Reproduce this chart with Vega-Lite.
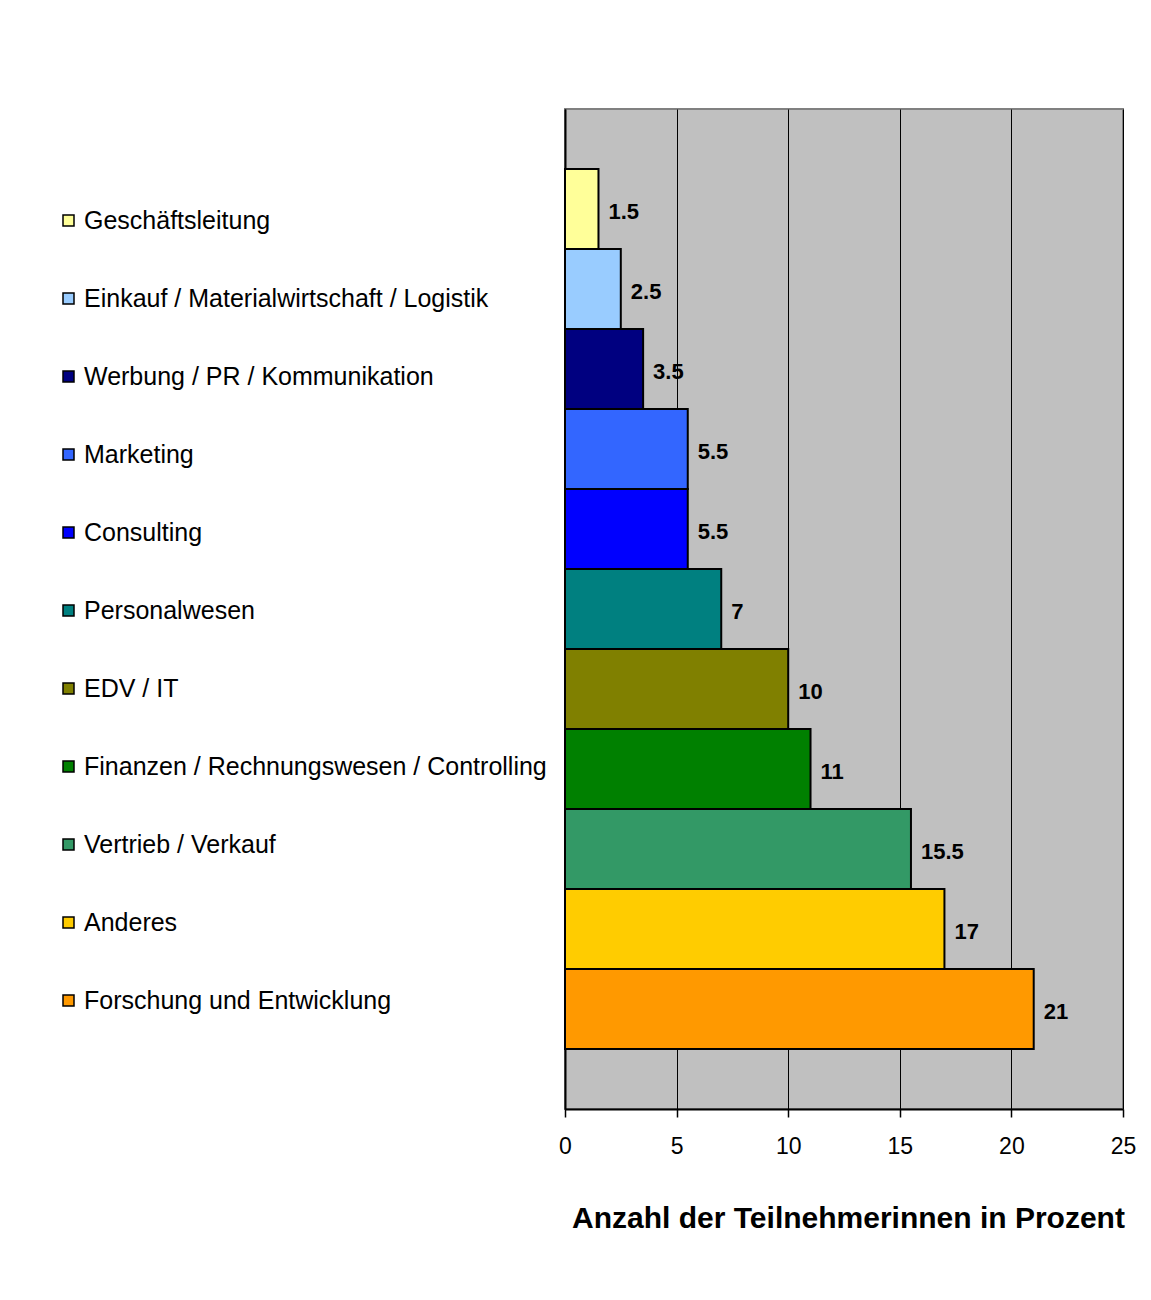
{
  "$schema": "https://vega.github.io/schema/vega-lite/v6.json",
  "width": 558,
  "height": 1000,
  "autosize": {"type": "none"},
  "padding": {"left": 565, "top": 109, "right": 28, "bottom": 191},
  "background": "white",
  "config": {
    "font": "Liberation Sans",
    "view": {"fill": "#C0C0C0", "stroke": "#808080", "strokeWidth": 2}
  },
  "data": {
    "values": [
      {"bereich": "Geschäftsleitung", "prozent": 1.5},
      {"bereich": "Einkauf / Materialwirtschaft / Logistik", "prozent": 2.5},
      {"bereich": "Werbung / PR / Kommunikation", "prozent": 3.5},
      {"bereich": "Marketing", "prozent": 5.5},
      {"bereich": "Consulting", "prozent": 5.5},
      {"bereich": "Personalwesen", "prozent": 7},
      {"bereich": "EDV / IT", "prozent": 10},
      {"bereich": "Finanzen / Rechnungswesen / Controlling", "prozent": 11},
      {"bereich": "Vertrieb / Verkauf", "prozent": 15.5},
      {"bereich": "Anderes", "prozent": 17},
      {"bereich": "Forschung und Entwicklung", "prozent": 21}
    ]
  },
  "encoding": {
    "y": {
      "field": "bereich",
      "type": "nominal",
      "sort": null,
      "scale": {"paddingInner": 0, "paddingOuter": 0.75},
      "axis": {
        "title": null,
        "labels": false,
        "ticks": false,
        "grid": false,
        "domain": true,
        "domainColor": "black",
        "domainWidth": 2
      }
    },
    "x": {
      "field": "prozent",
      "type": "quantitative",
      "scale": {"domain": [0, 25], "nice": false},
      "axis": {
        "values": [0, 5, 10, 15, 20, 25],
        "title": "Anzahl der Teilnehmerinnen in Prozent",
        "titleFont": "Liberation Sans",
        "titleFontSize": 30,
        "titleFontWeight": "bold",
        "titleColor": "black",
        "titleBaseline": "alphabetic",
        "titleY": 118,
        "titleX": 283,
        "domainColor": "black",
        "domainWidth": 2,
        "tickColor": "black",
        "tickWidth": 1.5,
        "tickSize": 8,
        "labelFontSize": 23,
        "labelColor": "black",
        "labelPadding": 18,
        "labelFlush": false,
        "labelOverlap": false,
        "grid": true,
        "gridColor": "black",
        "gridWidth": 1,
        "gridOpacity": 1
      }
    }
  },
  "layer": [
    {
      "mark": {"type": "bar", "stroke": "black", "strokeWidth": 2},
      "encoding": {
        "color": {
          "field": "bereich",
          "type": "nominal",
          "scale": {
            "domain": [
              "Geschäftsleitung",
              "Einkauf / Materialwirtschaft / Logistik",
              "Werbung / PR / Kommunikation",
              "Marketing",
              "Consulting",
              "Personalwesen",
              "EDV / IT",
              "Finanzen / Rechnungswesen / Controlling",
              "Vertrieb / Verkauf",
              "Anderes",
              "Forschung und Entwicklung"
            ],
            "range": [
              "#FFFF99", "#99CCFF", "#000080", "#3366FF", "#0000FF",
              "#008080", "#808000", "#008000", "#339966", "#FFCC00", "#FF9900"
            ]
          },
          "legend": {
            "title": null,
            "orient": "none",
            "legendX": -509,
            "legendY": 99,
            "padding": 0,
            "symbolType": "square",
            "symbolSize": 121,
            "symbolStrokeColor": "black",
            "symbolStrokeWidth": 1.5,
            "symbolOpacity": 1,
            "labelFont": "Liberation Sans",
            "labelFontSize": 25,
            "labelColor": "black",
            "labelOffset": 3,
            "labelLimit": 700,
            "rowPadding": 52
          }
        }
      }
    },
    {
      "mark": {
        "type": "text",
        "align": "left",
        "baseline": "middle",
        "dx": 10,
        "dy": 3,
        "fontSize": 22,
        "fontWeight": "bold",
        "color": "black"
      },
      "encoding": {
        "text": {"field": "prozent", "type": "quantitative"}
      }
    }
  ]
}
